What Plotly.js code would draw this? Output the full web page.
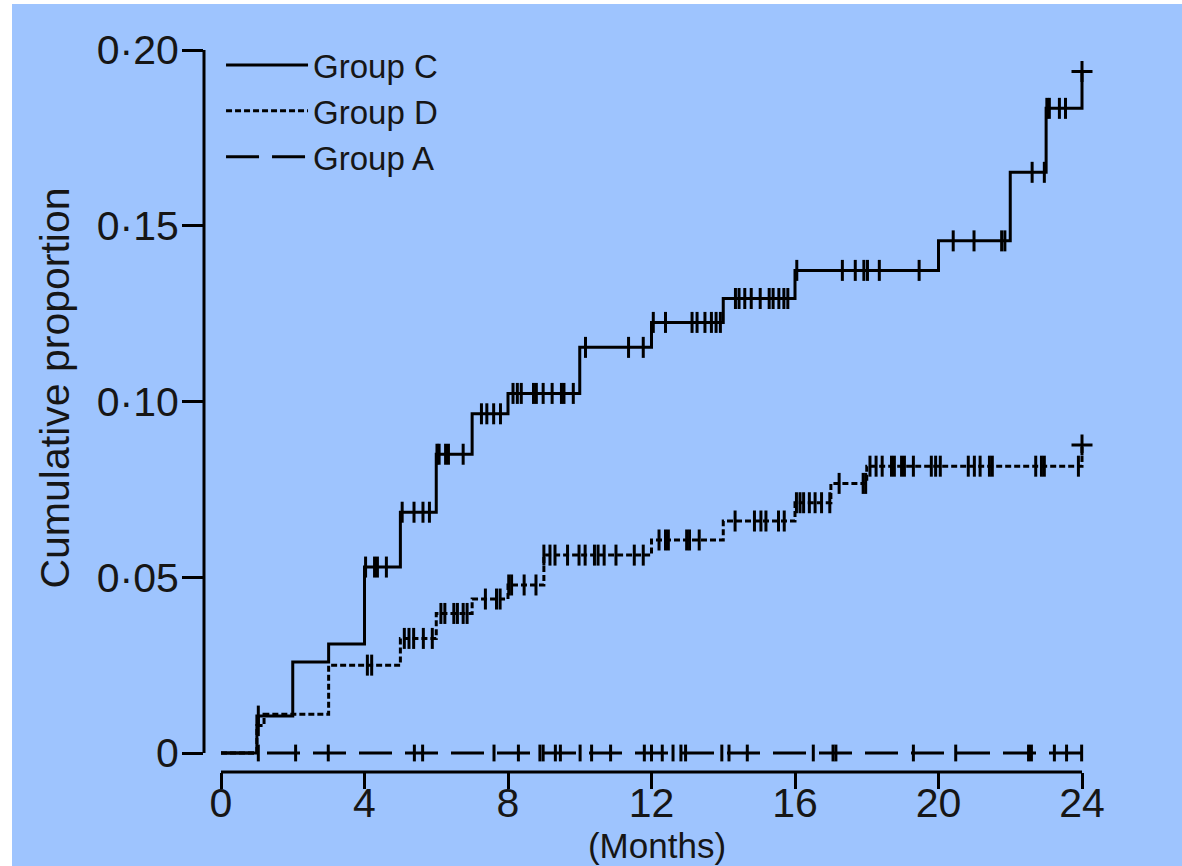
<!DOCTYPE html>
<html><head><meta charset="utf-8">
<script src="https://cdn.plot.ly/plotly-3.0.1.min.js"></script>
<style>
html,body{margin:0;padding:0;background:#ffffff;width:1182px;height:866px;overflow:hidden}
#chart{position:absolute;left:12px;top:4px;width:1170px;height:902px}
</style>
</head><body><div id="chart"></div>
<script>
// ---- data ----
const groupNames = ['Group C', 'Group D', 'Group A'];

// Group C: step times (months) and cumulative proportion after each step
const cTimes  = [0, 1, 2, 3, 4, 5, 6, 7, 8, 10, 12, 14, 16, 20, 22, 23, 24];
const cValues = [0, 0.0105, 0.0259, 0.031, 0.0529, 0.0685, 0.085, 0.0965, 0.1023, 0.1154, 0.1225, 0.1293, 0.1373, 0.1457, 0.1652, 0.1834, 0.1939];
const cCensor = [1.04, 4.03, 4.28, 4.36, 4.61, 5.05, 5.38, 5.63, 5.81, 6.02, 6.08, 6.26, 6.34, 6.75, 7.26, 7.41, 7.6, 7.79,
  8.14, 8.26, 8.37, 8.71, 8.79, 8.98, 9.23, 9.49, 9.56, 9.82, 10.16, 11.36, 11.77, 12.05, 12.39, 13.13, 13.27, 13.49,
  13.67, 13.8, 13.92, 14.34, 14.44, 14.6, 14.78, 15.03, 15.28, 15.39, 15.55, 15.69, 15.8, 16.05, 17.32, 17.68, 17.92,
  18.02, 18.35, 19.46, 20.41, 20.99, 21.76, 21.85, 22.61, 22.95, 23.02, 23.09, 23.37, 23.54];

// Group D
const dTimes  = [0, 1, 1.2, 3, 5, 6, 7, 8, 9, 12, 14, 16, 17, 18, 24];
const dValues = [0, 0.0078, 0.011, 0.025, 0.0326, 0.0397, 0.0438, 0.0478, 0.0563, 0.0606, 0.066, 0.0712, 0.0767, 0.0816, 0.0876];
const dCensor = [1.04, 4.08, 4.2, 5.11, 5.24, 5.37, 5.64, 5.89, 6.13, 6.24, 6.49, 6.59, 6.75, 6.86, 7.37, 7.68, 7.78,
  8.02, 8.1, 8.45, 8.78, 9.0, 9.17, 9.31, 9.66, 9.98, 10.15, 10.41, 10.51, 10.68, 11.01, 11.52, 11.77, 12.21, 12.39,
  12.47, 12.98, 13.06, 13.33, 14.33, 14.87, 15.05, 15.19, 15.54, 15.7, 16.04, 16.14, 16.24, 16.4, 16.56, 16.74, 16.97,
  17.23, 17.9, 17.97, 18.09, 18.26, 18.43, 18.69, 18.77, 18.97, 19.05, 19.3, 19.8, 19.92, 20.05, 20.83, 21.0, 21.16,
  21.42, 21.5, 22.71, 22.87, 22.95, 23.9];

// Group A: no events
const aTimes  = [0, 24];
const aValues = [0, 0];
const aCensor = [1.04, 2.08, 2.99, 5.39, 5.62, 7.61, 8.29, 8.89, 8.98, 9.32, 9.46, 10.01, 10.33, 10.86, 11.8, 12.0,
  12.3, 12.6, 12.82, 12.95, 13.96, 14.16, 14.67, 16.51, 17.06, 17.14, 19.3, 20.48, 22.51, 22.59, 23.23, 23.57, 23.99];

const xTickVals = [0, 4, 8, 12, 16, 20, 24];
const xTickText = ['0', '4', '8', '12', '16', '20', '24'];
const yTickVals = [0, 0.05, 0.10, 0.15, 0.20];
const yTickText = ['0', '0·05', '0·10', '0·15', '0·20'];

// ---- helpers ----
function stepValue(times, values, t) {
  let v = values[0];
  for (let i = 0; i < times.length; i++) { if (times[i] <= t) v = values[i]; }
  return v;
}
const FONT = 'Liberation Sans, Arial, Helvetica, sans-serif';
const TXT = '#161616';
const groups = [
  {name: groupNames[0], t: cTimes, v: cValues, cen: cCensor, dash: 'solid', tick: 15, end: true},
  {name: groupNames[1], t: dTimes, v: dValues, cen: dCensor, dash: '6px,3px', tick: 15, end: true},
  {name: groupNames[2], t: aTimes, v: aValues, cen: aCensor, dash: '33px,13px', tick: 12, end: false}
];

const traces = [];
groups.forEach(g => {
  traces.push({
    type: 'scatter', mode: 'lines', name: g.name, x: g.t, y: g.v,
    line: {shape: 'hv', color: '#000', width: 3, dash: g.dash}, hoverinfo: 'x+y'
  });
});
groups.forEach(g => {
  traces.push({
    type: 'scatter', mode: 'markers', showlegend: false, cliponaxis: false,
    x: g.cen, y: g.cen.map(t => stepValue(g.t, g.v, t)),
    marker: {symbol: 'line-ns', size: g.tick, color: '#000', line: {color: '#000', width: 3}}
  });
  if (g.end) {
    const n = g.t.length - 1;
    traces.push({
      type: 'scatter', mode: 'markers', showlegend: false, cliponaxis: false,
      x: [g.t[n]], y: [g.v[n]],
      marker: {symbol: 'cross-thin', size: 15, color: '#000', line: {color: '#000', width: 3}}
    });
  }
});

const layout = {
  width: 1170, height: 902,
  margin: {l: 192, r: 72, t: 0, b: 134},
  paper_bgcolor: '#9EC4FE', plot_bgcolor: 'rgba(0,0,0,0)',
  font: {family: FONT, color: TXT},
  showlegend: true,
  legend: {x: 0.0188, y: 0.957, xanchor: 'left', yanchor: 'top', bgcolor: 'rgba(0,0,0,0)',
           borderwidth: 0, itemwidth: 82, font: {size: 33, family: FONT, color: TXT}},
  xaxis: {
    range: [-0.4739, 24.7805], showgrid: false, zeroline: false, showline: false,
    tickmode: 'array', tickvals: xTickVals, ticktext: xTickText,
    ticks: 'outside', ticklen: 16, tickwidth: 3, tickcolor: '#000',
    ticklabelstandoff: -21,
    tickfont: {size: 41, family: FONT, color: TXT},
    title: {text: '(Months)', font: {size: 35, family: FONT, color: TXT}, standoff: 0}
  },
  yaxis: {
    range: [-0.0054054, 0.213087], showgrid: false, zeroline: false, showline: false,
    tickmode: 'array', tickvals: yTickVals, ticktext: yTickText,
    ticks: 'outside', ticklen: 21, tickwidth: 3, tickcolor: '#000',
    ticklabelstandoff: -5,
    tickfont: {size: 41, family: FONT, color: TXT},
    title: {text: 'Cumulative proportion', font: {size: 41, family: FONT, color: TXT}, standoff: 14}
  },
  shapes: [
    {type: 'line', xref: 'paper', yref: 'y', x0: 0, x1: 0,
     y0: yTickVals[0], y1: yTickVals[yTickVals.length - 1], line: {color: '#000', width: 3}},
    {type: 'line', xref: 'x', yref: 'paper', y0: 0, y1: 0,
     x0: xTickVals[0], x1: xTickVals[xTickVals.length - 1], line: {color: '#000', width: 3}}
  ]
};

Plotly.newPlot('chart', traces, layout, {displayModeBar: false, staticPlot: true});
</script>
</body></html>
